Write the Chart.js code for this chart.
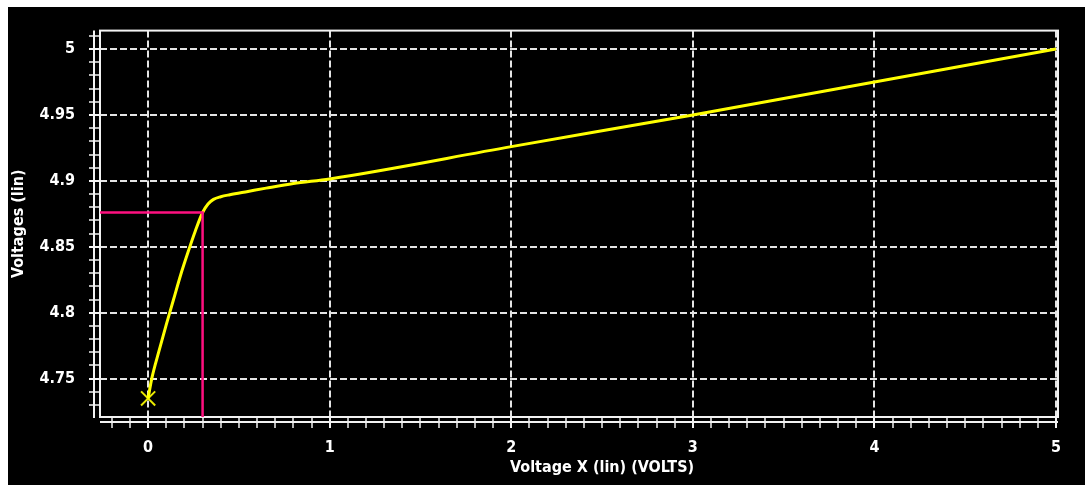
<!DOCTYPE html>
<html>
<head>
<meta charset="utf-8">
<script src="https://cdn.jsdelivr.net/npm/chart.js@4.4.1/dist/chart.umd.min.js"></script>
<style>
  html, body { margin: 0; padding: 0; background: #fff; }
  #wrap { position: absolute; left: 8px; top: 7px; }
  canvas { display: block; background: #000; }
</style>
</head>
<body>
<div id="wrap"><canvas id="plot" width="1077" height="478"></canvas></div>
<script>
"use strict"

// values
const xTickLabels = [0, 1, 2, 3, 4, 5];
const yTickLabels = [4.75, 4.8, 4.85, 4.9, 4.95, 5];

const curveX = [0, 0.02, 0.06, 0.10, 0.14, 0.18, 0.22, 0.26, 0.30, 0.33, 0.36, 0.40, 0.45, 0.55, 0.65, 0.80, 1, 2, 3, 4, 5];
const curveY = [4.735, 4.750, 4.771, 4.791, 4.810, 4.829, 4.846, 4.862, 4.876, 4.8825, 4.886, 4.888, 4.8895, 4.892, 4.8945, 4.898, 4.9015, 4.926, 4.950, 4.975, 5.0];

const markerX = [0];
const markerY = [4.735];

const cursorX = [-0.3, 0.30, 0.30];
const cursorY = [4.876, 4.876, 4.70];

const FONT = "'Liberation Sans Narrow', 'DejaVu Sans Condensed', sans-serif";

function toPoints(xs, ys) {
    return xs.map((x, i) => ({ x: x, y: ys[i] }));
}

function isMajor(v, list) {
    return list.some(t => Math.abs(t - v) < 1e-6);
}

// white frame round the plot, axis lines a little outside it, x title
const frame = {
    id: "frame",
    beforeDatasetsDraw(chart) {
        const { ctx, chartArea: a } = chart;
        ctx.save();
        ctx.strokeStyle = "#f2f2f2";
        ctx.lineWidth = 2;
        ctx.strokeRect(a.left, a.top, a.right - a.left, a.bottom - a.top);
        ctx.beginPath();
        ctx.moveTo(a.left - 6, a.top);
        ctx.lineTo(a.left - 6, a.bottom + 1);
        ctx.moveTo(a.left, a.bottom + 5);
        ctx.lineTo(a.right, a.bottom + 5);
        ctx.stroke();
        ctx.restore();
    },
    afterDraw(chart) {
        const ctx = chart.ctx;
        const xs = chart.scales.x;
        ctx.save();
        ctx.fillStyle = "#fff";
        ctx.font = "bold 16px " + FONT;
        ctx.textAlign = "center";
        ctx.textBaseline = "alphabetic";
        ctx.fillText("Voltage X (lin) (VOLTS)", xs.getPixelForValue(2.5), 465);
        ctx.restore();
    }
};

new Chart(document.getElementById("plot"), {
    type: "line",
    data: {
        datasets: [
            {
                label: "cursor",
                data: toPoints(cursorX, cursorY),
                borderColor: "#ff1080",
                borderWidth: 2.5,
                pointRadius: 0,
                tension: 0
            },
            {
                label: "V",
                data: toPoints(curveX, curveY),
                borderColor: "#ffff00",
                borderWidth: 3,
                pointRadius: 0,
                cubicInterpolationMode: "monotone"
            },
            {
                label: "start",
                data: toPoints(markerX, markerY),
                showLine: false,
                pointStyle: "crossRot",
                pointRadius: 10,
                pointBorderWidth: 2,
                pointBorderColor: "#e8e800",
                pointBackgroundColor: "#e8e800"
            }
        ]
    },
    options: {
        responsive: false,
        animation: false,
        layout: { padding: { top: 17, right: 27, left: 0, bottom: 0 } },
        plugins: {
            legend: { display: false },
            tooltip: { enabled: false }
        },
        scales: {
            x: {
                type: "linear",
                min: -0.265,
                max: 5.011,
                afterFit: s => { s.height = 68; },
                afterBuildTicks: s => {
                    s.ticks = [];
                    for (let i = -2; i <= 50; i++) s.ticks.push({ value: i / 10 });
                },
                ticks: {
                    autoSkip: false,
                    maxRotation: 0,
                    padding: 10,
                    color: "#fff",
                    font: { family: FONT, size: 16, weight: "bold" },
                    callback: v => isMajor(v, xTickLabels) ? String(Math.round(v)) : ""
                },
                grid: {
                    color: c => isMajor(c.tick.value, xTickLabels) ? "#e4e4e4" : "transparent",
                    lineWidth: 2,
                    tickLength: 11,
                    tickColor: "#f2f2f2",
                    tickWidth: c => isMajor(c.tick.value, xTickLabels) ? 2 : 1.5
                },
                border: { display: false, dash: [7, 3] }
            },
            y: {
                type: "linear",
                min: 4.7209,
                max: 5.014,
                afterFit: s => { s.width = 92; },
                afterBuildTicks: s => {
                    s.ticks = [];
                    for (let i = 473; i <= 501; i++) s.ticks.push({ value: i / 100 });
                },
                ticks: {
                    autoSkip: false,
                    padding: 14,
                    color: "#fff",
                    font: { family: FONT, size: 16, weight: "bold" },
                    callback: v => isMajor(v, yTickLabels) ? String(+v.toFixed(2)) : ""
                },
                grid: {
                    color: c => isMajor(c.tick.value, yTickLabels) ? "#e4e4e4" : "transparent",
                    lineWidth: 2,
                    tickLength: 11,
                    tickColor: "#f2f2f2",
                    tickWidth: c => isMajor(c.tick.value, yTickLabels) ? 2 : 1.5
                },
                border: { display: false, dash: [7, 3] },
                title: {
                    display: true,
                    text: "Voltages (lin)",
                    color: "#fff",
                    font: { family: FONT, size: 16, weight: "bold" },
                    padding: { top: 1, bottom: 0 }
                }
            }
        }
    },
    plugins: [frame]
});
</script>
</body>
</html>
